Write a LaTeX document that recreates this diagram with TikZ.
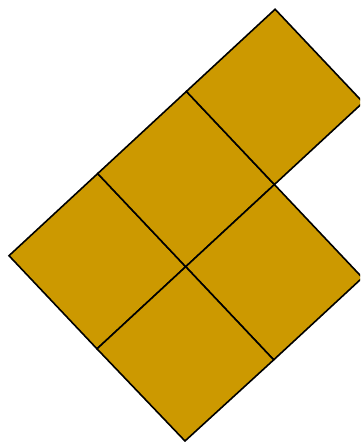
\documentclass[tikz,border=0pt]{standalone}
\definecolor{gold}{HTML}{CC9900}
\tikzset{tile/.style={fill=gold,draw=black,line width=1.6pt,line join=miter}}
\begin{document}
\begin{tikzpicture}[x=1pt,y=-1pt]
\useasboundingbox (0,0) rectangle (360,442);
\clip (0,0) rectangle (360,442);
\coordinate (C) at (185.7,266.7);
\coordinate (J) at (274.4,184.55);
\coordinate (Cmv) at (97.7,173.55);
\coordinate (Cumv) at (186.4,91.4);
\coordinate (L) at (9.0,255.7);
\coordinate (Cmu) at (97.0,348.85);
\coordinate (Cv) at (273.7,359.85);
\coordinate (B) at (185.0,441.0);
\coordinate (R2) at (362.4,277.7);
\coordinate (R1) at (363.1,102.4);
\coordinate (T) at (275.1,9.25);
\draw[tile] (C) -- (Cmv) -- (L) -- (Cmu) -- cycle;
\draw[tile] (C) -- (J) -- (Cumv) -- (Cmv) -- cycle;
\draw[tile] (Cumv) -- (T) -- (R1) -- (J) -- cycle;
\draw[tile] (C) -- (J) -- (R2) -- (Cv) -- cycle;
\draw[tile] (C) -- (Cv) -- (B) -- (Cmu) -- cycle;
\end{tikzpicture}
\end{document}
